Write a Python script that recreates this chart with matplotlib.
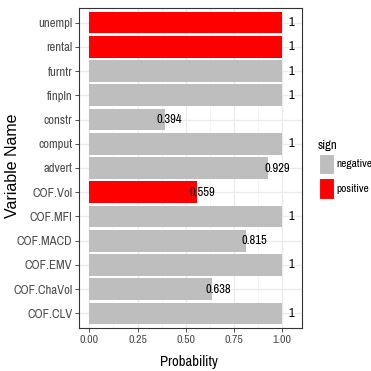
import matplotlib
matplotlib.use("Agg")
import matplotlib.pyplot as plt
from matplotlib.patches import Rectangle
import numpy as np
import logging
logging.getLogger("matplotlib.font_manager").setLevel(logging.ERROR)

variables = ["COF.CLV", "COF.ChaVol", "COF.EMV", "COF.MACD", "COF.MFI", "COF.Vol",
             "advert", "comput", "constr", "finpln", "furntr", "rental", "unempl"]
probability = [1, 0.638, 1, 0.815, 1, 0.559, 0.929, 1, 0.394, 1, 1, 1, 1]
sign = ["negative", "negative", "negative", "negative", "negative", "positive",
        "negative", "negative", "negative", "negative", "negative", "positive", "positive"]
sign_levels = ["negative", "positive"]
sign_colors = {"negative": "#BEBEBE", "positive": "#FF0000"}

NARROW = ["Archivo Narrow", "DejaVu Sans"]
REG = ["Liberation Sans", "DejaVu Sans"]

W = H = 371
fig = plt.figure(figsize=(3.71, 3.71), dpi=100)
L, R, T, B = 79.3, 301.7, 8.0, 328.0
ax = fig.add_axes([L / W, 1 - B / H, (R - L) / W, (B - T) / H])

y = np.arange(len(variables))
ax.set_axisbelow(True)
ax.barh(y, probability, height=0.9, color=[sign_colors[s] for s in sign], zorder=2)
for yi, p in zip(y, probability):
    lab = "1" if p == 1 else f"{p:.3f}".rstrip("0")
    ax.text(p * 1.05, yi, lab, ha="center", va="center", fontsize=9,
            family=NARROW, color="black", zorder=3)

ax.set_xlim(-0.0525, 1.1025)
ax.set_ylim(-0.6, len(variables) - 0.4)
ax.set_xticks([0, 0.25, 0.5, 0.75, 1.0])
ax.set_xticklabels(["0.00", "0.25", "0.50", "0.75", "1.00"])
ax.set_xticks([0.125, 0.375, 0.625, 0.875], minor=True)
ax.set_yticks(y)
ax.set_yticklabels(variables)
ax.grid(True, which="major", color="#EBEBEB", linewidth=0.9)
ax.grid(True, which="minor", axis="x", color="#F2F2F2", linewidth=0.5)
ax.tick_params(axis="both", which="major", length=3, width=0.6, color="#333333",
               labelcolor="#4D4D4D", pad=2)
ax.tick_params(axis="x", which="major", labelsize=8.5)
ax.tick_params(axis="y", which="major", labelsize=9.2)
ax.tick_params(axis="both", which="minor", length=0)
for t in ax.get_xticklabels() + ax.get_yticklabels():
    t.set_family(NARROW)
for s in ax.spines.values():
    s.set_color("#333333")
    s.set_linewidth(0.8)

fig.text(189 / W, 1 - 362 / H, "Probability", ha="center", va="center",
         fontsize=10.5, family=NARROW)
fig.text(13 / W, 1 - 166 / H, "Variable Name", ha="center", va="center",
         rotation=90, fontsize=11.5, family=REG)

# legend
fig.text(317.5 / W, 1 - 145 / H, "sign", ha="left", va="center", fontsize=9.2, family=NARROW)
keys = [(154, 174), (178, 199)]
for lvl, (y0, y1) in zip(sign_levels, keys):
    fig.add_artist(Rectangle((319 / W, 1 - y1 / H), 14.5 / W, (y1 - y0) / H,
                             transform=fig.transFigure, facecolor=sign_colors[lvl],
                             edgecolor="white", linewidth=0.8))
    fig.text(336 / W, 1 - (y0 + y1) / 2 / H, lvl, ha="left", va="center",
             fontsize=8.2, family=NARROW)

fig.savefig("out.png", dpi=100)
